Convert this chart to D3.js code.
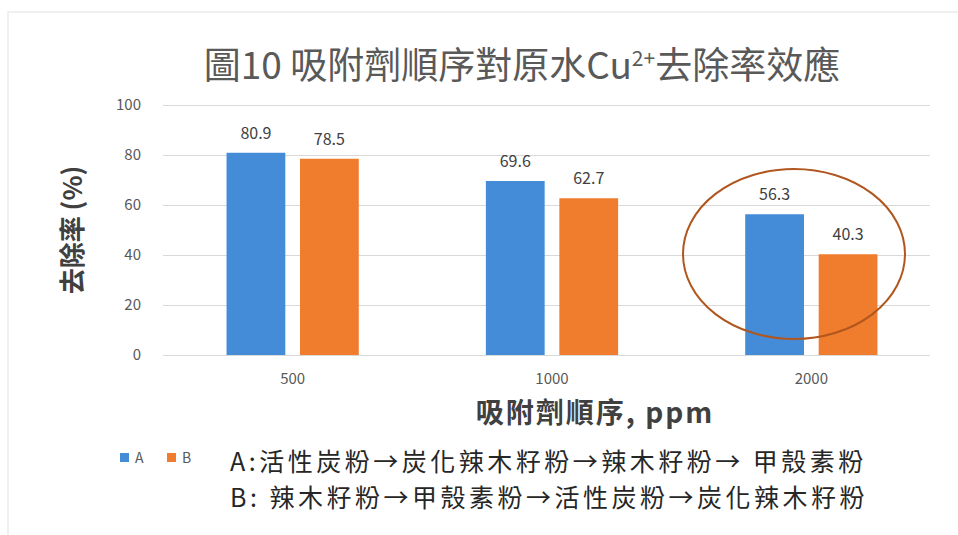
<!DOCTYPE html>
<html>
<head>
<meta charset="utf-8">
<script src="https://cdn.jsdelivr.net/npm/d3@7"></script>
<style>
  body { margin: 0; background: #fff; }
  text { font-family: "Noto Sans CJK TC", "Noto Sans", sans-serif; }
</style>
</head>
<body>
<svg width="958" height="535"></svg>
<script>
const categories = ['500', '1000', '2000'];
const seriesNames = ['A', 'B'];
const valuesA = [80.9, 69.6, 56.3];
const valuesB = [78.5, 62.7, 40.3];
const yTicks = [0, 20, 40, 60, 80, 100];
const legendLines = [
  'A:活性炭粉→炭化辣木籽粉→辣木籽粉→ 甲殼素粉',
  'B: 辣木籽粉→甲殼素粉→活性炭粉→炭化辣木籽粉'
];

var svg = d3.select('svg'),
  colors = {A: '#448cd8', B: '#ef7d2d'};

// faint frame of the pasted chart
svg.append('rect')
  .attr('x', 8).attr('y', 12)
  .attr('width', 960).attr('height', 530)
  .attr('fill', 'none')
  .attr('stroke', '#ececec')
  .attr('stroke-width', 1.5);

var y = d3.scaleLinear().domain([0, 100]).range([355, 105]);
var x0 = d3.scaleBand().domain(categories).range([163, 941])
  .paddingInner(0.49).paddingOuter(0.245);
var x1 = d3.scaleBand().domain(seriesNames).range([0, x0.bandwidth()])
  .paddingInner(0.2);

// gridlines + tick labels
var yAxis = svg.append('g')
  .attr('transform', 'translate(163,0)')
  .call(d3.axisLeft(y).tickValues(yTicks).tickSize(-767).tickPadding(22));
yAxis.select('.domain').remove();
yAxis.selectAll('.tick line').attr('stroke', '#d9d9d9');
yAxis.selectAll('.tick text')
  .attr('fill', '#595959')
  .style('font-size', '15px');

var rows = categories.map((c, i) => ({cat: c, A: valuesA[i], B: valuesB[i]}));

var groups = svg.selectAll('.grp')
  .data(rows)
  .enter()
  .append('g')
  .attr('class', 'grp')
  .attr('transform', d => `translate(${x0(d.cat)},0)`);

var bars = groups.selectAll('g.bar')
  .data(d => seriesNames.map(k => ({key: k, value: d[k]})))
  .enter()
  .append('g')
  .attr('class', 'bar');

bars.append('rect')
  .attr('x', d => x1(d.key))
  .attr('y', d => y(d.value))
  .attr('width', x1.bandwidth())
  .attr('height', d => y(0) - y(d.value))
  .attr('fill', d => colors[d.key]);

bars.append('text')
  .attr('x', d => x1(d.key) + x1.bandwidth() / 2)
  .attr('y', d => y(d.value) - 14)
  .attr('text-anchor', 'middle')
  .attr('fill', '#404040')
  .style('font-size', '16px')
  .text(d => d.value.toFixed(1));

// x tick labels
svg.append('g')
  .attr('transform', 'translate(0,355)')
  .call(d3.axisBottom(x0).tickSize(0).tickPadding(18))
  .call(g => g.select('.domain').remove())
  .selectAll('text')
  .attr('fill', '#595959')
  .style('font-size', '15px');

// title
var title = svg.append('text')
  .attr('x', 522).attr('y', 79)
  .attr('text-anchor', 'middle')
  .attr('fill', '#595959')
  .style('font-size', '37px');
title.append('tspan').text('圖10 吸附劑順序對原水Cu');
title.append('tspan').attr('dy', -13).style('font-size', '21px').text('2+');
title.append('tspan').attr('dy', 13).text('去除率效應');

// axis titles
svg.append('text')
  .attr('transform', 'translate(82,230) rotate(-90)')
  .attr('text-anchor', 'middle')
  .attr('fill', '#404040')
  .style('font-size', '26px')
  .style('font-weight', 'bold')
  .text('去除率 (%)');

svg.append('text')
  .attr('x', 595).attr('y', 423)
  .attr('text-anchor', 'middle')
  .attr('fill', '#404040')
  .style('font-size', '28px')
  .style('letter-spacing', '2px')
  .style('font-weight', 'bold')
  .text('吸附劑順序, ppm');

// legend
var legend = svg.selectAll('.leg')
  .data(seriesNames)
  .enter()
  .append('g')
  .attr('class', 'leg')
  .attr('transform', (d, i) => `translate(${120 + i * 47},453)`);
legend.append('rect')
  .attr('width', 9).attr('height', 9)
  .attr('fill', d => colors[d]);
legend.append('text')
  .attr('x', 15).attr('y', 10)
  .attr('fill', '#595959')
  .style('font-size', '14px')
  .text(d => d);

svg.selectAll('.legline')
  .data(legendLines)
  .enter()
  .append('text')
  .attr('class', 'legline')
  .attr('x', 230)
  .attr('y', (d, i) => 471 + i * 36)
  .attr('fill', '#262626')
  .style('font-size', '25px')
  .style('letter-spacing', '3.5px')
  .text(d => d);

// highlight ellipse
svg.append('ellipse')
  .attr('cx', 794).attr('cy', 254)
  .attr('rx', 111).attr('ry', 85)
  .attr('fill', 'none')
  .attr('stroke', '#b0561e')
  .attr('stroke-width', 2);
</script>
</body>
</html>
